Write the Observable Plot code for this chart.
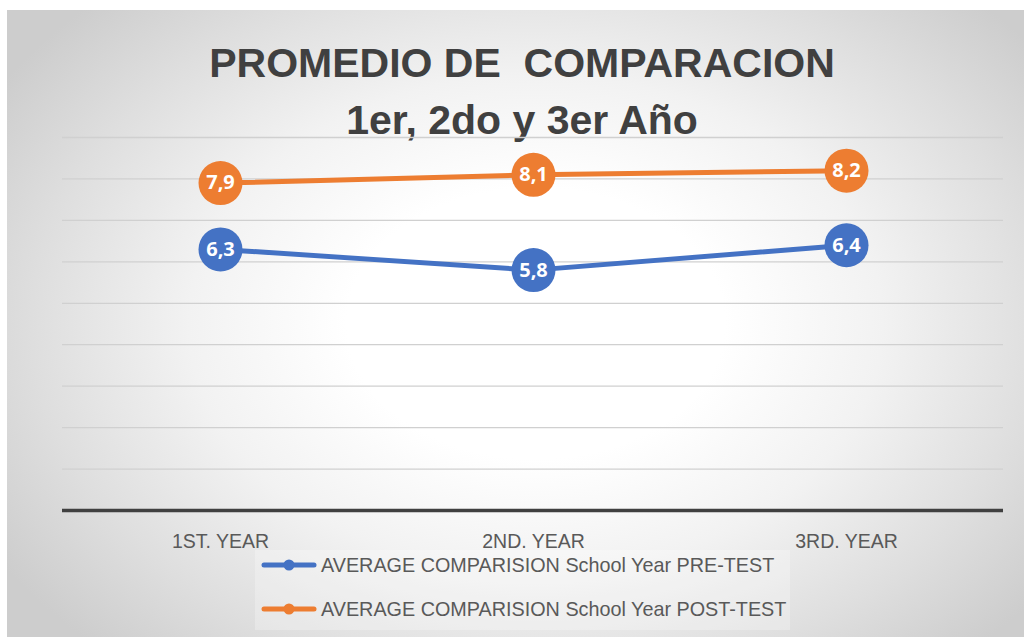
<!DOCTYPE html>
<html>
<head>
<meta charset="utf-8">
<script src="https://cdn.jsdelivr.net/npm/d3@7"></script>
<script src="https://cdn.jsdelivr.net/npm/@observablehq/plot@0.6"></script>
<style>
  html, body { margin: 0; padding: 0; background: #ffffff; }
  #wrap { position: relative; width: 1024px; height: 637px; overflow: hidden; background: #fff; }
  #frame { position: absolute; left: 7px; top: 10px; width: 1017px; height: 627px;
    background: radial-gradient(ellipse 62% 72% at 52% 50%, #ffffff 0%, #ffffff 30%, #f2f2f2 55%, #dedede 80%, #cdcdcd 100%); }
  #title { position: absolute; left: 0; top: 35px; width: 1044px; text-align: center;
    font-family: "Liberation Sans", Arial, sans-serif; font-weight: bold; font-size: 41px; line-height: 57px; color: #404040; }
  #chart { position: absolute; left: 0; top: 0; }
  #legend { position: absolute; left: 255px; top: 550px; width: 535px; height: 80px; background: rgba(255,255,255,0.25);
    font-family: "Liberation Sans", Arial, sans-serif; font-size: 19.8px; color: #595959; }
  .item { position: absolute; left: 0; height: 24px; display: flex; align-items: center; }
  .item svg { margin-left: 5px; margin-right: 3px; }
</style>
</head>
<body>
<div id="wrap">
  <div id="frame"></div>
  <div id="title">PROMEDIO DE&nbsp; COMPARACION<br>1er, 2do y 3er Año</div>
  <div id="chart"></div>
  <div id="legend"></div>
</div>
<script>
const categories = ["1ST. YEAR", "2ND. YEAR", "3RD. YEAR"];
const preTest = [6.3, 5.8, 6.4];
const postTest = [7.9, 8.1, 8.2];
const seriesNames = ["AVERAGE COMPARISION School Year PRE-TEST", "AVERAGE COMPARISION School Year POST-TEST"];
const seriesColors = ["#4472C4", "#ED7D31"];
const gridValues = [1, 2, 3, 4, 5, 6, 7, 8, 9];

const rows = [];
[preTest, postTest].forEach((vals, s) => {
  vals.forEach((v, i) => rows.push({cat: categories[i], value: v, series: seriesNames[s], label: String(v).replace(".", ",")}));
});

const chart = Plot.plot({
  width: 1024,
  height: 637,
  marginLeft: 62,
  marginRight: 21,
  marginTop: 137,
  marginBottom: 127,
  style: {background: "transparent", overflow: "visible"},
  x: {type: "point", domain: categories, padding: 0.5, axis: null},
  y: {domain: [0, 9], axis: null},
  color: {domain: seriesNames, range: seriesColors},
  marks: [
    Plot.ruleY(gridValues, {stroke: "#d0d0d0", strokeWidth: 1.3}),
    Plot.ruleY([0], {stroke: "#404040", strokeWidth: 3.5}),
    Plot.text(categories, {x: d => d, y: 0, dy: 31, text: d => d, fill: "#595959", fontSize: 19.5,
      fontFamily: "Liberation Sans, Arial, sans-serif"}),
    Plot.line(rows, {x: "cat", y: "value", z: "series", stroke: "series", strokeWidth: 5, curve: "linear"}),
    Plot.dot(rows, {x: "cat", y: "value", fill: "series", r: 22, stroke: null}),
    Plot.text(rows, {x: "cat", y: "value", text: "label", fill: "white", fontSize: 20, fontWeight: "bold",
      fontFamily: "Open Sans, Liberation Sans, sans-serif"})
  ]
});
document.getElementById("chart").appendChild(chart);

const legend = document.getElementById("legend");
seriesNames.forEach((name, i) => {
  const item = document.createElement("div");
  item.className = "item";
  item.style.top = (i === 0 ? 3 : 47) + "px";
  item.innerHTML = `<svg width="58" height="14"><line x1="4" y1="7" x2="54" y2="7" stroke="${seriesColors[i]}" stroke-width="5" stroke-linecap="round"/><circle cx="29" cy="7" r="5.5" fill="${seriesColors[i]}"/></svg><span>${name}</span>`;
  legend.appendChild(item);
});
</script>
</body>
</html>
